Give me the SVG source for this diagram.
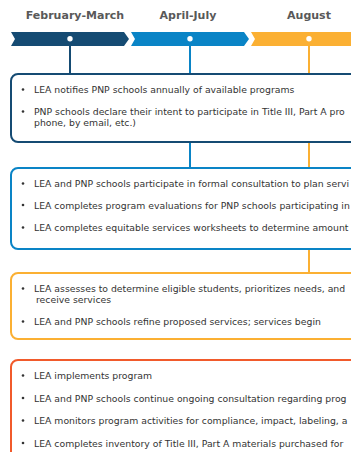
<svg xmlns="http://www.w3.org/2000/svg" width="351" height="452" viewBox="0 0 351 452">
<style>
.hd{font-family:"DejaVu Sans",Verdana,sans-serif;font-weight:bold;font-size:11px;fill:#595959;text-anchor:middle}
.t{font-family:"DejaVu Sans",Verdana,sans-serif;font-size:9.3px;fill:#333}
.box{fill:#fff;stroke-width:2}
.dot{fill:#fff}
.b{fill:#333}
</style>
<rect width="351" height="452" fill="#fff"/>
<g id="headers">
<text class="hd" x="75" y="19">February-March</text>
<text class="hd" x="188" y="19">April-July</text>
<text class="hd" x="309" y="19">August</text>
</g>
<g id="timeline">
<polygon points="11,32 124,32 129,39 124,46 11,46 15,39" fill="#154b73"/>
<polygon points="131,32 244,32 249,39 244,46 131,46 135,39" fill="#0a84c6"/>
<polygon points="251,32 356,32 356,46 251,46 255,39" fill="#fbb033"/>
</g>
<g id="connectors">
<line x1="70" y1="39" x2="70" y2="75" stroke="#154b73" stroke-width="2"/>
<line x1="190" y1="39" x2="190" y2="169" stroke="#0a84c6" stroke-width="2"/>
<line x1="309" y1="39" x2="309" y2="274" stroke="#fbb033" stroke-width="2"/>
<circle class="dot" cx="70" cy="38.7" r="2.7"/>
<circle class="dot" cx="190" cy="38.7" r="2.7"/>
<circle class="dot" cx="309" cy="38.7" r="2.7"/>
</g>
<g id="box1">
<rect class="box" x="11" y="74" width="360" height="68" rx="7" stroke="#154b73"/>
<circle class="b" cx="23" cy="89.5" r="1.3"/>
<text class="t" x="34" y="93">LEA notifies PNP schools annually of available programs</text>
<circle class="b" cx="23" cy="111.5" r="1.3"/>
<text class="t" x="34" y="115">PNP schools declare their intent to participate in Title III, Part A pro</text>
<text class="t" x="34" y="126">phone, by email, etc.)</text>
</g>
<g id="box2">
<rect class="box" x="11" y="168" width="360" height="81" rx="7" stroke="#0a84c6"/>
<circle class="b" cx="23" cy="183.5" r="1.3"/>
<text class="t" x="34" y="187">LEA and PNP schools participate in formal consultation to plan servi</text>
<circle class="b" cx="23" cy="205" r="1.3"/>
<text class="t" x="34" y="208.5">LEA completes program evaluations for PNP schools participating in</text>
<circle class="b" cx="23" cy="227.5" r="1.3"/>
<text class="t" x="34" y="231">LEA completes equitable services worksheets to determine amount</text>
</g>
<g id="box3">
<rect class="box" x="11" y="273" width="360" height="66" rx="7" stroke="#fbb033"/>
<circle class="b" cx="23" cy="288.5" r="1.3"/>
<text class="t" x="34" y="292">LEA assesses to determine eligible students, prioritizes needs, and</text>
<text class="t" x="36" y="303">receive services</text>
<circle class="b" cx="23" cy="321.5" r="1.3"/>
<text class="t" x="34" y="325">LEA and PNP schools refine proposed services; services begin</text>
</g>
<g id="box4">
<rect class="box" x="11" y="360" width="360" height="110" rx="7" stroke="#f15a2b"/>
<circle class="b" cx="23" cy="375.5" r="1.3"/>
<text class="t" x="34" y="379">LEA implements program</text>
<circle class="b" cx="23" cy="398" r="1.3"/>
<text class="t" x="34" y="402">LEA and PNP schools continue ongoing consultation regarding prog</text>
<circle class="b" cx="23" cy="420.5" r="1.3"/>
<text class="t" x="34" y="424">LEA monitors program activities for compliance, impact, labeling, a</text>
<circle class="b" cx="23" cy="443" r="1.3"/>
<text class="t" x="34" y="447">LEA completes inventory of Title III, Part A materials purchased for</text>
</g>
</svg>
